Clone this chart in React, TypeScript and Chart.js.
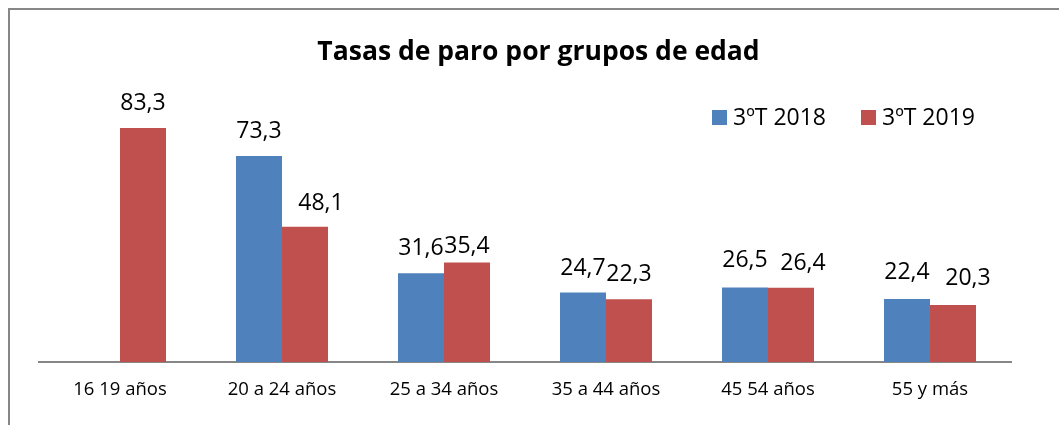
import React, { useEffect, useRef } from "react";
import { Chart, registerables } from "chart.js";

Chart.register(...registerables);

const categories = ["16 19 años", "20 a 24 años", "25 a 34 años", "35 a 44 años", "45 54 años", "55 y más"];
const series2018 = [null, 73.3, 31.6, 24.7, 26.5, 22.4];
const series2019 = [83.3, 48.1, 35.4, 22.3, 26.4, 20.3];
const seriesNames = ["3ºT 2018", "3ºT 2019"];
const chartTitle = "Tasas de paro por grupos de edad";

const FONT = "'Open Sans', 'Noto Sans', sans-serif";
const BLUE = "#4F81BD";
const RED = "#C0504D";

const fmt = (v: number) => v.toFixed(1).replace(".", ",");

// manual label nudges as in the original (dataset index -> point index -> [dx, dy])
const labelNudges: Record<string, [number, number]> = {
  "0-4": [0, -3],
  "0-5": [0, -2],
  "1-1": [16, 1],
  "1-2": [0, 8],
  "1-4": [12, 0],
  "1-5": [15, -2],
};

const labelPlugin = {
  id: "barValueLabels",
  afterDatasetsDraw(chart: any) {
    const ctx = chart.ctx;
    ctx.save();
    ctx.font = `23px ${FONT}`;
    ctx.fillStyle = "#000";
    ctx.textAlign = "center";
    ctx.textBaseline = "alphabetic";
    chart.data.datasets.forEach((ds: any, di: number) => {
      const meta = chart.getDatasetMeta(di);
      meta.data.forEach((el: any, i: number) => {
        const v = ds.data[i];
        if (v === null || v === undefined) return;
        const [dx, dy] = labelNudges[`${di}-${i}`] || [0, 0];
        ctx.fillText(fmt(v), el.x + dx, el.y - 18 + dy);
      });
    });
    ctx.restore();
  },
};

const titlePlugin = {
  id: "customTitle",
  afterDraw(chart: any) {
    const ctx = chart.ctx;
    ctx.save();
    ctx.font = `bold 26.5px ${FONT}`;
    ctx.fillStyle = "#000";
    ctx.textAlign = "center";
    ctx.textBaseline = "alphabetic";
    ctx.fillText(chartTitle, 528.5, 50);
    ctx.restore();
  },
};

const legendPlugin = {
  id: "customLegend",
  afterDraw(chart: any) {
    const ctx = chart.ctx;
    const area = chart.chartArea;
    ctx.save();
    ctx.font = `23px ${FONT}`;
    ctx.textBaseline = "middle";
    ctx.textAlign = "left";
    let x = area.left + 673;
    const y = 100;
    chart.data.datasets.forEach((ds: any) => {
      ctx.fillStyle = ds.backgroundColor;
      ctx.fillRect(x, y, 15, 15);
      ctx.fillStyle = "#000";
      ctx.fillText(ds.label, x + 21, y + 8);
      x += 21 + ctx.measureText(ds.label).width + 35;
    });
    ctx.restore();
  },
};

export default function App() {
  const ref = useRef<HTMLCanvasElement>(null);

  useEffect(() => {
    if (!ref.current) return;
    const chart = new Chart(ref.current, {
      type: "bar",
      data: {
        labels: categories,
        datasets: [
          { label: seriesNames[0], data: series2018, backgroundColor: BLUE },
          { label: seriesNames[1], data: series2019, backgroundColor: RED },
        ],
      },
      options: {
        animation: false,
        responsive: false,
        maintainAspectRatio: false,
        layout: { padding: { left: 29, right: 59, top: 71, bottom: 0 } },
        datasets: { bar: { categoryPercentage: 0.568, barPercentage: 1 } },
        plugins: {
          legend: { display: false },
          tooltip: { enabled: false },
          title: { display: false },
        },
        scales: {
          x: {
            grid: { display: false, drawTicks: false },
            border: { display: true, color: "#868686", width: 2 },
            ticks: { color: "#000", font: { family: FONT, size: 18.5 }, padding: 17, maxRotation: 0 },
            afterFit: (scale: any) => {
              scale.height = 48;
            },
          },
          y: { display: false, min: 0, max: 100 },
        },
      },
      plugins: [labelPlugin, titlePlugin, legendPlugin],
    });
    return () => chart.destroy();
  }, []);

  return (
    <div style={{ position: "fixed", left: 0, top: 0, width: 1059, height: 425, overflow: "hidden", background: "#fff" }}>
      <div
        style={{
          position: "absolute",
          left: 8,
          top: 8,
          width: 1070,
          height: 440,
          border: "2px solid #878787",
          boxSizing: "content-box",
        }}
      >
        <canvas ref={ref} width={1060} height={400} style={{ display: "block", width: 1060, height: 400 }} />
      </div>
    </div>
  );
}
